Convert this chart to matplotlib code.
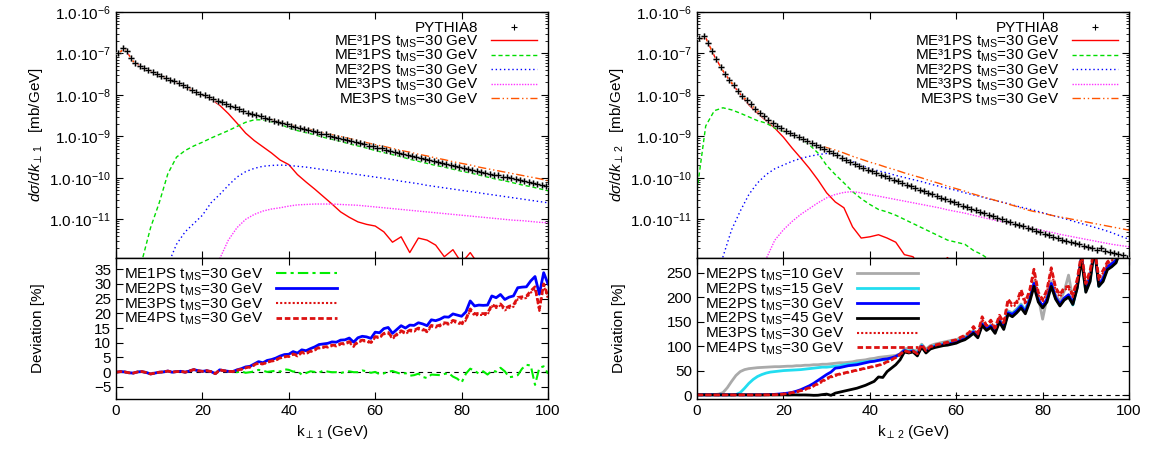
import numpy as np
import matplotlib
matplotlib.use('Agg')
import matplotlib.pyplot as plt
from matplotlib.ticker import FuncFormatter, LogLocator, NullFormatter, MultipleLocator

plt.rcParams['font.family'] = ['Liberation Sans', 'DejaVu Sans']
plt.rcParams['mathtext.fontset'] = 'custom'
plt.rcParams['mathtext.rm'] = 'Liberation Sans'
plt.rcParams['mathtext.it'] = 'Liberation Sans:italic'
plt.rcParams['mathtext.bf'] = 'Liberation Sans:bold'
plt.rcParams['font.size'] = 11

# ---------------- data (log10 of dsigma/dk in mb/GeV) ----------------
kt_pts = np.arange(0.5, 100, 1.0)     # PYTHIA8 bins
kt_crv = np.arange(0, 101, 2)         # ME+PS curves
kt_dev = np.arange(0, 101, 1)         # deviation curves

# left: k_perp1
pythia_l = [-6.98, -6.86, -6.95, -7.12, -7.24, -7.30, -7.35, -7.40, -7.45, -7.50,
            -7.54, -7.58, -7.63, -7.67, -7.72, -7.77, -7.82, -7.87, -7.92, -7.97,
            -8.01, -8.05, -8.09, -8.14, -8.18, -8.22, -8.26, -8.30, -8.35, -8.39,
            -8.43, -8.46, -8.49, -8.52, -8.55, -8.59, -8.62, -8.65, -8.68, -8.71,
            -8.74, -8.77, -8.79, -8.82, -8.85, -8.87, -8.90, -8.93, -8.95, -8.98,
            -9.01, -9.03, -9.06, -9.08, -9.11, -9.14, -9.16, -9.19, -9.22, -9.24,
            -9.27, -9.29, -9.32, -9.35, -9.37, -9.40, -9.43, -9.45, -9.48, -9.50,
            -9.53, -9.55, -9.57, -9.60, -9.62, -9.64, -9.67, -9.69, -9.71, -9.73,
            -9.76, -9.78, -9.80, -9.83, -9.85, -9.87, -9.90, -9.92, -9.94, -9.97,
            -9.99, -10.01, -10.03, -10.06, -10.08, -10.10, -10.13, -10.15, -10.17, -10.20]
me31ps_a_l = [-7.04, -6.88, -7.20, -7.33, -7.43, -7.52, -7.61, -7.70, -7.80, -7.90,
              -8.00, -8.10, -8.25, -8.45, -8.68, -8.92, -9.10, -9.25, -9.40, -9.57,
              -9.68, -9.92, -10.10, -10.27, -10.45, -10.63, -10.82, -10.95, -11.06, -11.12,
              -11.16, -11.30, -11.55, -11.42, -11.80, -11.45, -11.50, -11.62, -11.90, -11.73,
              -12.05, -11.80, -12.10, -12.30, -12.20, -12.50, -12.30, -12.60, -12.40, -12.70, -12.60]
me31ps_b_l = [-14.0, -14.0, -13.0, -12.0, -11.2, -10.6, -9.90, -9.50, -9.34, -9.23,
              -9.14, -9.04, -8.95, -8.86, -8.76, -8.66, -8.60, -8.60, -8.65, -8.70,
              -8.80, -8.86, -8.91, -8.96, -9.02, -9.07, -9.12, -9.18, -9.23, -9.28,
              -9.34, -9.39, -9.44, -9.49, -9.55, -9.60, -9.65, -9.70, -9.74, -9.79,
              -9.84, -9.88, -9.93, -9.98, -10.03, -10.07, -10.12, -10.17, -10.21, -10.26, -10.31]
me32ps_l = [-14.0, -14.0, -14.0, -14.0, -14.0, -13.0, -12.1, -11.60, -11.30, -11.10,
            -10.90, -10.60, -10.40, -10.18, -9.98, -9.85, -9.77, -9.72, -9.70, -9.69,
            -9.70, -9.72, -9.74, -9.77, -9.80, -9.83, -9.86, -9.89, -9.92, -9.95,
            -9.98, -10.01, -10.04, -10.08, -10.11, -10.14, -10.18, -10.21, -10.24, -10.27,
            -10.30, -10.33, -10.36, -10.39, -10.42, -10.45, -10.48, -10.51, -10.54, -10.57, -10.60]
me33ps_l = [-14.0, -14.0, -14.0, -14.0, -14.0, -14.0, -14.0, -14.0, -14.0, -14.0,
            -14.0, -14.0, -11.95, -11.50, -11.20, -11.00, -10.88, -10.80, -10.75, -10.72,
            -10.68, -10.65, -10.64, -10.63, -10.63, -10.63, -10.64, -10.65, -10.66, -10.68,
            -10.70, -10.72, -10.74, -10.76, -10.78, -10.80, -10.82, -10.84, -10.86, -10.88,
            -10.90, -10.92, -10.94, -10.96, -10.98, -11.00, -11.02, -11.03, -11.05, -11.07, -11.08]
me3ps_l = [-7.04, -6.88, -7.20, -7.33, -7.43, -7.52, -7.61, -7.70, -7.80, -7.90,
           -8.00, -8.08, -8.16, -8.24, -8.32, -8.41, -8.48, -8.54, -8.60, -8.65,
           -8.71, -8.76, -8.81, -8.86, -8.91, -8.96, -9.00, -9.05, -9.10, -9.15,
           -9.20, -9.24, -9.29, -9.34, -9.38, -9.43, -9.47, -9.52, -9.56, -9.61,
           -9.65, -9.69, -9.74, -9.78, -9.82, -9.86, -9.90, -9.94, -9.98, -10.02, -10.07]

# right: k_perp2
pythia_r = [-6.62, -6.58, -6.75, -6.95, -7.14, -7.32, -7.49, -7.63, -7.76, -7.90,
            -8.02, -8.13, -8.23, -8.33, -8.43, -8.52, -8.60, -8.67, -8.74, -8.80,
            -8.86, -8.92, -8.97, -9.02, -9.07, -9.12, -9.17, -9.21, -9.26, -9.31,
            -9.36, -9.41, -9.46, -9.51, -9.56, -9.61, -9.66, -9.71, -9.75, -9.80,
            -9.84, -9.88, -9.92, -9.96, -10.00, -10.04, -10.08, -10.12, -10.16, -10.20,
            -10.24, -10.28, -10.32, -10.36, -10.40, -10.44, -10.48, -10.51, -10.55, -10.59,
            -10.63, -10.67, -10.70, -10.74, -10.78, -10.82, -10.85, -10.89, -10.93, -10.96,
            -11.00, -11.03, -11.07, -11.10, -11.14, -11.17, -11.21, -11.24, -11.28, -11.31,
            -11.35, -11.38, -11.42, -11.45, -11.49, -11.52, -11.55, -11.58, -11.60, -11.63,
            -11.66, -11.68, -11.74, -11.70, -11.75, -11.78, -11.80, -11.83, -11.87, -11.93]
me31ps_a_r = [-6.67, -6.62, -7.06, -7.42, -7.72, -7.98, -8.24, -8.44, -8.62, -8.80,
              -9.02, -9.28, -9.52, -9.77, -10.05, -10.36, -10.58, -10.72, -11.18, -11.45,
              -11.42, -11.37, -11.45, -11.55, -11.85, -11.90, -12.20, -12.30, -12.10, -11.92,
              -12.30, -12.50, -12.60, -12.50, -12.70, -12.80, -12.70, -12.90, -13.00, -12.90,
              -13.00, -13.10, -13.00, -13.20, -13.10, -13.30, -13.20, -13.30, -13.40, -13.30, -13.40]
me31ps_b_r = [-10.30, -8.75, -8.38, -8.31, -8.36, -8.44, -8.53, -8.62, -8.68, -8.80,
              -8.88, -8.96, -9.06, -9.20, -9.40, -9.70, -9.92, -10.12, -10.33, -10.50,
              -10.64, -10.76, -10.82, -10.90, -11.00, -11.10, -11.20, -11.30, -11.40, -11.50,
              -11.55, -11.60, -11.75, -11.85, -12.00, -12.20, -12.40, -12.50, -12.60, -12.70,
              -12.80, -12.90, -13.00, -13.00, -13.10, -13.20, -13.20, -13.30, -13.30, -13.40, -13.40]
me32ps_r = [-14.0, -14.0, -14.0, -11.90, -11.25, -10.80, -10.40, -10.12, -9.92, -9.78,
            -9.69, -9.60, -9.53, -9.48, -9.44, -9.41, -9.42, -9.50, -9.60, -9.70,
            -9.77, -9.83, -9.88, -9.94, -9.99, -10.04, -10.09, -10.15, -10.20, -10.25,
            -10.30, -10.36, -10.41, -10.46, -10.52, -10.57, -10.62, -10.68, -10.73, -10.78,
            -10.84, -10.90, -10.95, -11.01, -11.07, -11.13, -11.19, -11.25, -11.32, -11.40, -11.48]
me33ps_r = [-14.0, -14.0, -14.0, -14.0, -14.0, -14.0, -14.0, -14.0, -11.95, -11.50,
            -11.25, -11.05, -10.88, -10.74, -10.60, -10.48, -10.40, -10.35, -10.33, -10.36,
            -10.40, -10.44, -10.48, -10.52, -10.56, -10.60, -10.64, -10.68, -10.72, -10.77,
            -10.81, -10.85, -10.90, -10.95, -11.00, -11.04, -11.09, -11.13, -11.18, -11.22,
            -11.27, -11.31, -11.36, -11.40, -11.44, -11.48, -11.52, -11.56, -11.60, -11.63, -11.66]
me3ps_r = [-6.67, -6.62, -7.06, -7.42, -7.70, -7.96, -8.18, -8.38, -8.56, -8.72,
           -8.85, -8.96, -9.06, -9.14, -9.21, -9.27, -9.33, -9.40, -9.48, -9.55,
           -9.62, -9.68, -9.75, -9.81, -9.88, -9.94, -10.00, -10.07, -10.13, -10.20,
           -10.26, -10.32, -10.39, -10.45, -10.51, -10.57, -10.63, -10.69, -10.76, -10.81,
           -10.85, -10.90, -10.94, -10.98, -11.02, -11.06, -11.10, -11.14, -11.18, -11.22, -11.26]

# deviations [%], left (k_perp1)
dev_me2_l = [0.0, 0.2, 0.1, -0.2, -0.3, 0.1, 0.2, -0.1, -0.6, -0.3,
             0.0, 0.1, 0.4, 0.0, 0.2, 0.3, 0.0, 0.4, 0.9, 0.5,
             0.3, 0.5, 0.2, -0.5, 0.8, 0.5, 0.3, 0.2, 0.8, 1.2,
             1.8, 2.0, 2.8, 3.6, 3.2, 4.0, 4.3, 4.8, 5.5, 6.0,
             6.1, 7.0, 6.5, 7.6, 7.3, 8.0, 8.6, 9.4, 9.6, 9.8,
             10.3, 10.2, 10.9, 11.0, 11.6, 10.2, 11.7, 12.2, 12.0, 11.5,
             13.6, 13.4, 14.8, 15.2, 13.2, 14.5, 15.8, 15.0, 16.0, 15.9,
             16.8, 16.4, 15.8, 17.8, 17.5, 18.0, 18.8, 18.7, 19.8, 19.4,
             19.0, 20.5, 24.2, 22.5, 22.8, 22.7, 22.8, 25.9, 25.3, 26.4,
             24.7, 25.5, 25.9, 28.7, 28.9, 29.0, 31.0, 32.5, 26.5, 33.8, 30.0]
dev_me3_l = [0.0, 0.2, 0.1, -0.2, -0.3, 0.1, 0.2, -0.1, -0.6, -0.3,
             0.0, 0.1, 0.4, 0.0, 0.2, 0.3, 0.0, 0.4, 0.9, 0.5,
             0.3, 0.5, 0.2, -0.5, 0.8, 0.5, 0.3, 0.2, 0.6, 0.9,
             1.4, 1.6, 2.3, 3.0, 2.6, 3.3, 3.6, 4.0, 4.7, 5.1,
             5.2, 6.0, 5.4, 6.5, 6.2, 6.9, 7.4, 8.1, 8.3, 8.4,
             8.9, 8.8, 9.4, 9.5, 10.1, 8.6, 10.1, 10.6, 10.4, 9.8,
             11.8, 11.6, 12.9, 13.2, 11.3, 12.5, 13.8, 13.0, 13.9, 13.8,
             14.6, 14.2, 13.6, 15.5, 15.2, 15.6, 16.4, 16.2, 17.2, 16.7,
             16.1, 17.6, 21.0, 19.2, 19.5, 19.4, 19.5, 22.4, 21.8, 22.7,
             21.0, 21.8, 22.2, 24.8, 25.0, 25.2, 27.0, 28.5, 20.8, 29.5, 25.0]
dev_me4_l = [0.0, 0.2, 0.1, -0.2, -0.3, 0.1, 0.2, -0.1, -0.6, -0.3,
             0.0, 0.1, 0.4, 0.0, 0.2, 0.3, 0.0, 0.4, 0.9, 0.5,
             0.3, 0.5, 0.2, -0.5, 0.8, 0.5, 0.3, 0.2, 0.7, 1.0,
             1.5, 1.8, 2.5, 3.2, 2.8, 3.5, 3.8, 4.2, 4.9, 5.3,
             5.4, 6.2, 5.7, 6.8, 6.5, 7.1, 7.7, 8.4, 8.6, 8.7,
             9.2, 9.1, 9.7, 9.8, 10.4, 9.0, 10.4, 10.9, 10.7, 10.1,
             12.1, 11.9, 13.2, 13.5, 11.7, 12.9, 14.1, 13.4, 14.3, 14.2,
             15.0, 14.6, 14.0, 15.9, 15.6, 16.0, 16.8, 16.6, 17.6, 17.2,
             16.6, 18.1, 21.5, 19.8, 20.0, 19.9, 20.0, 22.9, 22.3, 23.2,
             21.6, 22.4, 22.8, 25.4, 25.6, 25.8, 27.6, 29.0, 21.5, 30.0, 25.8]
dev_me1_l = [0.0, 0.2, 0.1, -0.2, -0.3, 0.1, 0.2, -0.1, -0.6, -0.3,
             0.0, 0.1, 0.4, 0.0, 0.2, 0.3, 0.0, 0.4, 0.9, 0.5,
             0.3, 0.5, 0.2, -0.5, 0.8, 0.5, 0.3, 0.2, 0.0, 0.3,
             -0.2, 0.0, 0.3, 0.8, 0.5, 0.1, 0.3, 0.5, 0.2, 1.0,
             0.8, 0.2, 0.3, -0.8, -0.3, 0.3, 0.1, -0.1, 0.5, 0.2,
             0.0, 0.0, -0.3, 0.1, 0.3, 0.0, 0.0, 0.6, 0.3, -0.2,
             0.1, -0.7, -0.4, 0.2, 0.4, -0.1, -0.6, -0.3, -1.2, -1.0,
             -0.5, -1.6, -2.0, -0.8, -0.9, -1.0, -0.6, -0.3, -1.5, -2.2,
             -3.5, -0.5, 1.2, 0.5, -0.5, 0.3, -0.8, 0.5, 0.2, 1.5,
             0.3, -1.7, -1.5, -1.0, 1.2, 2.5, 2.3, -4.3, 1.5, 2.0, -0.5]

# deviations [%], right (k_perp2)
dev_t10_r = [1, 1, 1, 1, 1, 2, 5, 15, 28, 40,
             48, 52, 54, 55, 56, 56.5, 57, 57.5, 58, 58,
             58.5, 59, 59, 60, 60, 61, 61, 62, 62, 63,
             63, 64, 65, 66, 66, 67, 68, 70, 71, 72,
             74, 75, 77, 78, 79, 80, 81, 84, 94, 96,
             92, 90, 104, 94, 101, 104, 106, 108, 110, 112,
             113, 117, 120, 125, 132, 122, 148, 137, 143, 132,
             155, 142, 172, 168, 176, 186, 174, 200, 232, 200,
             155, 198, 232, 204, 192, 212, 245, 195, 228, 285,
             222, 243, 300, 230, 240, 266, 270, 280, 300, 300, 300]
dev_t15_r = [0.5, 0.5, 0.5, 0.5, 0.5, 0.5, 0.5, 0.5, 0.5, 1,
             5, 14, 24, 32, 38, 42, 45, 47, 48, 49,
             50, 50.5, 51, 51.5, 52, 53, 54, 55, 56, 57,
             57, 58, 59, 60, 62, 63, 64, 65, 67, 68,
             69, 70, 71, 72, 73, 75, 78, 83, 92, 90,
             91, 86, 102, 91, 98, 101, 103, 105, 107, 109,
             110, 114, 117, 123, 130, 121, 146, 136, 142, 131,
             153, 140, 170, 166, 174, 184, 172, 197, 226, 197,
             180, 194, 225, 198, 184, 196, 203, 184, 220, 280,
             212, 236, 300, 222, 235, 258, 265, 272, 300, 300, 300]
dev_t30_r = [0.5, 0.5, 0.4, 0.6, 0.5, 0.5, 0.4, 0.6, 0.5, 0.7,
             0.5, 0.3, 0.6, 0.5, 0.4, 0.6, 0.8, 1.0, 1.5, 2.2,
             3, 4, 5.5, 8, 11, 15, 19, 24, 30, 36,
             42, 47, 55, 56, 58, 60, 61, 62, 64, 66,
             68, 69, 71, 73, 74, 76, 79, 84, 91, 88,
             90, 83, 100, 88, 96, 99, 101, 103, 104, 106,
             108, 112, 115, 121, 129, 120, 145, 135, 141, 130,
             152, 138, 168, 165, 172, 182, 170, 195, 228, 195,
             182, 196, 228, 200, 186, 198, 205, 188, 222, 282,
             220, 240, 300, 225, 238, 262, 268, 275, 300, 300, 300]
dev_t45_r = [0.5, 0.4, 0.5, 0.3, 0.5, 0.4, 0.5, 0.4, 0.3, 0.5,
             0.4, 0.5, 0.3, 0.4, 0.5, 0.3, 0.4, 0.5, 0.3, 0.4,
             0.5, 0.2, 0.3, 0.4, 0.2, 0.3, 0.0, -0.5, -0.3, 1,
             2, -0.5, 4, 6, 8, 10, 12, 14, 17, 20,
             24, 28, 37, 36, 48, 55, 62, 72, 88, 86,
             88, 80, 98, 86, 94, 97, 99, 101, 102, 104,
             106, 110, 113, 119, 126, 117, 142, 132, 138, 126,
             149, 134, 165, 160, 168, 178, 166, 190, 222, 190,
             178, 190, 222, 196, 182, 194, 200, 185, 218, 278,
             210, 232, 300, 222, 232, 256, 262, 270, 295, 300, 300]
dev_me3_r = [0.3, 0.2, 0.4, 0.2, 0.3, 0.1, 0.3, 0.2, 0.4, 0.2,
             0.3, 0.2, 0.3, 0.1, 0.3, 0.2, 0.4, 0.3, 0.5, 1,
             2, 3, 4, 6, 8, 11, 14, 18, 22, 27,
             32, 36, 39, 42, 44, 46, 48, 50, 52, 54,
             56, 58, 60, 63, 67, 71, 76, 82, 90, 87,
             89, 84, 102, 90, 98, 101, 103, 105, 107, 110,
             112, 116, 120, 126, 136, 124, 155, 140, 150, 135,
             160, 145, 190, 180, 185, 208, 185, 210, 250, 205,
             190, 210, 255, 215, 200, 215, 218, 200, 232, 285,
             225, 250, 300, 235, 250, 268, 275, 282, 300, 300, 300]
dev_me4_r = [0.4, 0.3, 0.2, 0.4, 0.2, 0.3, 0.2, 0.4, 0.3, 0.1,
             0.2, 0.4, 0.2, 0.3, 0.2, 0.3, 0.5, 0.4, 0.8, 1.2,
             2, 3.5, 5, 7, 9, 12, 15, 19, 24, 29,
             34, 38, 41, 43, 45, 47, 49, 51, 53, 55,
             57, 59, 61, 64, 68, 72, 77, 83, 91, 88,
             90, 85, 103, 91, 99, 102, 104, 106, 108, 111,
             113, 118, 122, 128, 140, 126, 160, 142, 153, 137,
             163, 148, 196, 184, 190, 215, 190, 214, 257, 210,
             195, 215, 260, 220, 205, 220, 222, 205, 236, 290,
             228, 255, 300, 240, 255, 272, 280, 288, 300, 300, 300]

# ---------------- figure ----------------
fig = plt.figure(figsize=(11.51, 4.51), dpi=100)
axes_top = [fig.add_axes([0.1008, 0.428, 0.3753, 0.5455]),
            fig.add_axes([0.6056, 0.428, 0.3753, 0.5455])]
axes_bot = [fig.add_axes([0.1008, 0.1153, 0.3753, 0.3127]),
            fig.add_axes([0.6056, 0.1153, 0.3753, 0.3127])]

def sci(v, pos):
    return r'$1.0{\cdot}10^{%d}$' % int(round(np.log10(v)))

def style(ax):
    ax.tick_params(which='both', direction='in', top=True, right=True, labelsize=11)
    ax.tick_params(which='major', length=5)
    ax.tick_params(which='minor', length=2.5)
    for s in ax.spines.values():
        s.set_linewidth(1.0)

sub = ['1', '2']
top_sets = [(pythia_l, me31ps_a_l, me31ps_b_l, me32ps_l, me33ps_l, me3ps_l),
            (pythia_r, me31ps_a_r, me31ps_b_r, me32ps_r, me33ps_r, me3ps_r)]

for i, ax in enumerate(axes_top):
    py, a, b, c, d, e = [np.power(10.0, np.array(v)) for v in top_sets[i]]
    ax.plot(kt_pts, py, ls='none', marker='+', ms=5, mew=1.8, color='#aaaaaa', zorder=5)
    ax.plot(kt_pts, py, ls='none', marker='+', ms=5, mew=0.8, color='black', zorder=6,
            label='PYTHIA8')
    ax.plot(kt_crv, a, color='#ff0000', lw=1.0, label='ME\u00b31PS t$_{\\rm MS}$=30 GeV')
    ax.plot(kt_crv, b, color='#00dd00', lw=1.0, ls=(0, (3, 2)),
            label='ME\u00b31PS t$_{\\rm MS}$=30 GeV')
    ax.plot(kt_crv, c, color='#0000ff', lw=1.0, ls=(0, (1, 2)),
            label='ME\u00b32PS t$_{\\rm MS}$=30 GeV')
    ax.plot(kt_crv, d, color='#ff33ff', lw=1.0, ls=(0, (1, 1)),
            label='ME\u00b33PS t$_{\\rm MS}$=30 GeV')
    ax.plot(kt_crv, e, color='#ff5500', lw=1.0, ls=(0, (6, 2, 1, 2, 1, 2)),
            label='ME3PS t$_{\\rm MS}$=30 GeV')
    ax.set_yscale('log')
    ax.set_xlim(0, 100)
    ax.set_ylim(10 ** -11.93, 1e-6)
    ax.set_yticks([1e-11, 1e-10, 1e-9, 1e-8, 1e-7, 1e-6])
    ax.yaxis.set_major_formatter(FuncFormatter(sci))
    ax.yaxis.set_minor_locator(LogLocator(base=10, subs=np.arange(2, 10)))
    ax.yaxis.set_minor_formatter(NullFormatter())
    ax.xaxis.set_major_locator(MultipleLocator(20))
    ax.set_xticklabels([])
    style(ax)
    ax.set_ylabel(r'$d\sigma/dk_{\perp\,%s}$   [mb/GeV]' % sub[i], fontsize=11)
    ax.yaxis.set_label_coords(-0.165, 0.5)
    ax.legend(loc='upper right', bbox_to_anchor=(0.995, 1.0), frameon=False,
              markerfirst=False, handlelength=3.0, labelspacing=-0.12,
              handletextpad=0.8, borderaxespad=0.2, fontsize=11)

# lower left
ax = axes_bot[0]
kd = kt_dev
ax.axhline(0, color='black', lw=0.8, ls=(0, (4, 4)), zorder=1)
ax.plot(kd, dev_me1_l, color='#00ee00', lw=1.5, ls=(0, (5, 2, 1.5, 2)),
        label=r'ME1PS t$_{\rm MS}$=30 GeV')
ax.plot(kd, dev_me2_l, color='#0000ff', lw=2.0, label=r'ME2PS t$_{\rm MS}$=30 GeV')
ax.plot(kd, dev_me3_l, color='#dd1111', lw=1.5, ls=(0, (1, 1)),
        label=r'ME3PS t$_{\rm MS}$=30 GeV')
ax.plot(kd, dev_me4_l, color='#dd1111', lw=2.0, ls=(0, (2, 1)),
        label=r'ME4PS t$_{\rm MS}$=30 GeV')
ax.set_ylim(-9.1, 38.8)
ax.set_yticks(np.arange(-5, 36, 5))

# lower right
ax = axes_bot[1]
ax.axhline(0, color='black', lw=0.8, ls=(0, (4, 4)), zorder=1)
ax.plot(kd, dev_t10_r, color='#aaaaaa', lw=2.0, label=r'ME2PS t$_{\rm MS}$=10 GeV')
ax.plot(kd, dev_t15_r, color='#22ddf0', lw=2.0, label=r'ME2PS t$_{\rm MS}$=15 GeV')
ax.plot(kd, dev_t30_r, color='#0000ff', lw=2.0, label=r'ME2PS t$_{\rm MS}$=30 GeV')
ax.plot(kd, dev_t45_r, color='#000000', lw=2.0, label=r'ME2PS t$_{\rm MS}$=45 GeV')
ax.plot(kd, dev_me3_r, color='#dd1111', lw=1.5, ls=(0, (1, 1)),
        label=r'ME3PS t$_{\rm MS}$=30 GeV')
ax.plot(kd, dev_me4_r, color='#dd1111', lw=2.0, ls=(0, (2, 1)),
        label=r'ME4PS t$_{\rm MS}$=30 GeV')
ax.set_ylim(-8, 280)
ax.set_yticks(np.arange(0, 251, 50))

for i, ax in enumerate(axes_bot):
    ax.set_xlim(0, 100)
    ax.xaxis.set_major_locator(MultipleLocator(20))
    style(ax)
    ax.set_xlabel(r'k$_{\perp\,%s}$ (GeV)' % sub[i], fontsize=11, labelpad=4)
    ax.set_ylabel('Deviation [%]', fontsize=11)
    ax.yaxis.set_label_coords(-0.165, 0.5)
    ax.legend(loc='upper left', bbox_to_anchor=(0.0, 1.0), frameon=False,
              markerfirst=False, handlelength=4.0, labelspacing=-0.1,
              handletextpad=0.8, borderaxespad=0.15, fontsize=11)

fig.savefig('out.png', dpi=100)
